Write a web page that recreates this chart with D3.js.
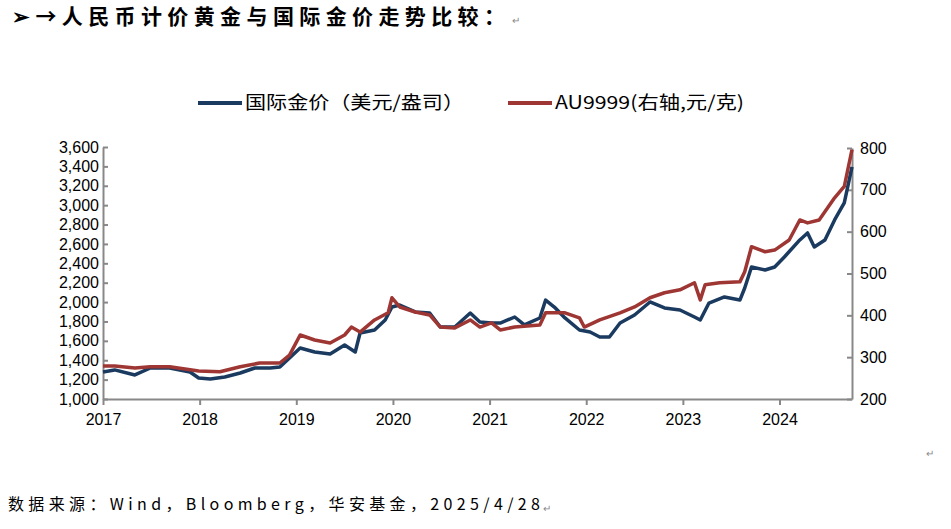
<!DOCTYPE html>
<html><head><meta charset="utf-8">
<script src="https://cdn.jsdelivr.net/npm/d3@7"></script>
<style>body{margin:0;background:#fff}text{font-family:"Liberation Sans",Arial,sans-serif}</style>
</head><body><svg id="c" width="951" height="529"></svg>
<script>
// years since 2017 (decimal) + values
const usdT = [0,.12,.33,.49,.69,.90,.99,1.11,1.26,1.42,1.57,1.73,1.83,1.93,2.04,2.19,2.35,2.50,2.61,2.66,2.81,2.92,2.99,3.07,3.23,3.38,3.49,3.64,3.80,3.90,4.02,4.11,4.26,4.36,4.52,4.58,4.67,4.78,4.93,5.04,5.14,5.24,5.35,5.50,5.66,5.81,5.97,6.12,6.18,6.27,6.43,6.59,6.64,6.71,6.85,6.95,7.05,7.21,7.29,7.36,7.47,7.57,7.67,7.75];
const usdV = [1279,1300,1248,1320,1320,1279,1217,1206,1227,1268,1320,1320,1330,1423,1526,1485,1464,1557,1485,1681,1712,1815,1949,1970,1898,1887,1743,1743,1887,1795,1784,1784,1846,1764,1836,2021,1949,1836,1712,1691,1640,1640,1784,1867,2001,1939,1918,1846,1815,1990,2053,2021,2145,2362,2331,2362,2465,2641,2713,2568,2641,2847,3023,3394];
const cnyT = [0,.12,.33,.49,.69,.99,1.21,1.42,1.62,1.83,1.93,2.04,2.19,2.35,2.50,2.57,2.66,2.81,2.95,2.99,3.07,3.23,3.38,3.49,3.64,3.80,3.90,4.02,4.11,4.26,4.52,4.58,4.78,4.93,4.98,5.14,5.35,5.50,5.66,5.81,5.97,6.12,6.18,6.23,6.38,6.59,6.64,6.71,6.85,6.95,7.10,7.21,7.29,7.41,7.57,7.67,7.75];
const cnyV = [279,279,274,277,277,267,265,277,286,286,305,353,341,334,353,372,360,389,406,442,420,408,401,372,370,389,372,382,365,372,377,406,406,394,372,389,406,420,442,454,461,478,437,473,478,480,504,564,552,556,580,628,621,628,681,708,796];
const yearTicks = [2017,2018,2019,2020,2021,2022,2023,2024];
const leftTicks = d3.range(1000, 3601, 200);
const rightTicks = [200,300,400,500,600,700,800];

const svg = d3.select("#c");
const x = d3.scaleLinear().domain([2017, 2024.75]).range([103, 852]);
const yL = d3.scaleLinear().domain([1000, 3600]).range([399, 147]);
const yR = d3.scaleLinear().domain([200, 800]).range([399, 148]);

// title + footer
svg.append("text").attr("x", 12).attr("y", 24).attr("font-size", 21).attr("font-weight", "bold")
  .attr("textLength", 493).attr("lengthAdjust", "spacing")
  .style("font-family", "'Noto Sans CJK SC'").text("➢→人民币计价黄金与国际金价走势比较：");
svg.append("text").attr("x", 512).attr("y", 24).attr("font-size", 10).attr("fill", "#888").text("↵");
svg.append("text").attr("x", 926).attr("y", 457).attr("font-size", 10).attr("fill", "#888").text("↵");
svg.append("text").attr("x", 8).attr("y", 510).attr("font-size", 16)
  .attr("textLength", 532).attr("lengthAdjust", "spacing")
  .style("font-family", "'Noto Sans CJK SC'").text("数据来源：Wind，Bloomberg，华安基金，2025/4/28");
svg.append("text").attr("x", 543).attr("y", 512).attr("font-size", 10).attr("fill", "#888").text("↵");

// legend
const leg = [["国际金价（美元/盎司）", "#1a3a5f", 198, 219], ["AU9999(右轴,元/克)", "#9e3634", 508, 189]];
leg.forEach(([t, c, lx, w]) => {
  svg.append("line").attr("x1", lx).attr("x2", lx + 44).attr("y1", 103).attr("y2", 103)
    .attr("stroke", c).attr("stroke-width", 4);
  svg.append("text").attr("x", lx + 47).attr("y", 109).attr("font-size", 18)
    .attr("textLength", w).attr("lengthAdjust", "spacingAndGlyphs")
    .style("font-family", "'Noto Sans CJK SC'").text(t);
});

// axes
const grey = "#888";
function styleAxis(g) {
  g.select(".domain").attr("stroke", grey).attr("stroke-width", 2);
  g.selectAll(".tick line").attr("stroke", grey).attr("stroke-width", 2);
  g.selectAll("text").attr("font-size", 16).attr("fill", "#000")
    .style("font-family", "'Liberation Sans'");
}
svg.append("g").attr("transform", "translate(0,399)")
  .call(d3.axisBottom(x).tickValues(yearTicks).tickFormat(d3.format("d")).tickSize(6).tickSizeOuter(0))
  .call(styleAxis).selectAll("text").attr("dy", "1.05em");
svg.append("g").attr("transform", "translate(103,0)")
  .call(d3.axisLeft(yL).tickValues(leftTicks).tickFormat(d3.format(",")).tickSize(-5).tickSizeOuter(0))
  .call(styleAxis).selectAll("text").attr("x", -4);
svg.append("g").attr("transform", "translate(852,0)")
  .call(d3.axisRight(yR).tickValues(rightTicks).tickSize(-5).tickSizeOuter(0))
  .call(styleAxis).selectAll("text").attr("x", 8);

// lines
const blue = usdT.map((t, i) => [x(2017 + t), yL(usdV[i])]);
const red = cnyT.map((t, i) => [x(2017 + t), yR(cnyV[i])]);
const line = d3.line();
svg.append("path").attr("d", line(blue)).attr("fill", "none").attr("stroke", "#1a3a5f")
  .attr("stroke-width", 3.5).attr("stroke-linejoin", "round");
svg.append("path").attr("d", line(red)).attr("fill", "none").attr("stroke", "#9e3634")
  .attr("stroke-width", 3.5).attr("stroke-linejoin", "round");
</script></body></html>
